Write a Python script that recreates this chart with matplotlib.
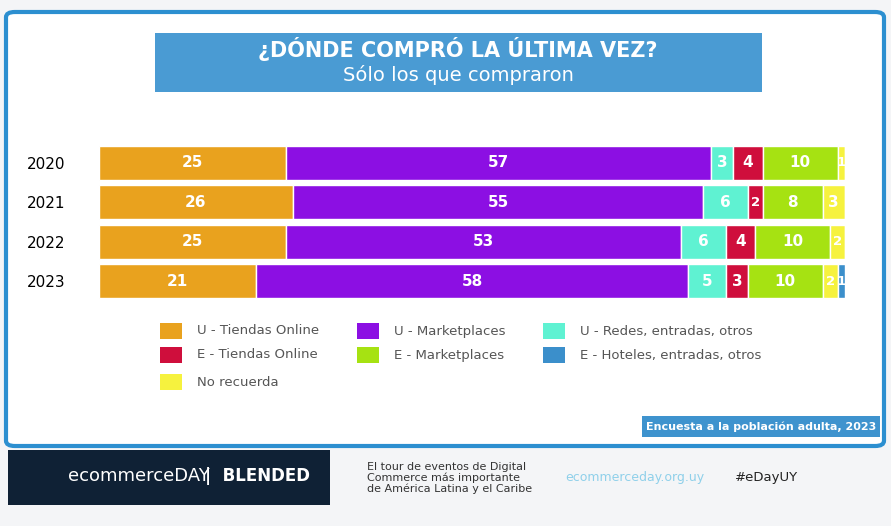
import matplotlib
matplotlib.use("Agg")
import matplotlib.pyplot as plt
from matplotlib.patches import FancyBboxPatch, Rectangle

years = ["2020", "2021", "2022", "2023"]
series = ["U - Tiendas Online", "U - Marketplaces", "U - Redes, entradas, otros",
          "E - Tiendas Online", "E - Marketplaces", "No recuerda", "E - Hoteles, entradas, otros"]
values = {
    "U - Tiendas Online": [25, 26, 25, 21],
    "U - Marketplaces": [57, 55, 53, 58],
    "U - Redes, entradas, otros": [3, 6, 6, 5],
    "E - Tiendas Online": [4, 2, 4, 3],
    "E - Marketplaces": [10, 8, 10, 10],
    "No recuerda": [1, 3, 2, 2],
    "E - Hoteles, entradas, otros": [0, 0, 0, 1],
}
colors = {
    "U - Tiendas Online": "#E9A21E",
    "U - Marketplaces": "#8C0FE3",
    "U - Redes, entradas, otros": "#5FF2D2",
    "E - Tiendas Online": "#CF0E3C",
    "E - Marketplaces": "#A6E212",
    "No recuerda": "#F6F23E",
    "E - Hoteles, entradas, otros": "#3B8FCB",
}

W, H = 891, 526
fig = plt.figure(figsize=(W/100, H/100), dpi=100)
fig.patch.set_facecolor("#F4F5F7")

def fx(x): return x / W
def fy(y): return 1 - y / H

fig.patches.append(FancyBboxPatch((fx(6), fy(446)), fx(878), 434/H, boxstyle="round,pad=0,rounding_size=0.01",
                                  transform=fig.transFigure, facecolor="white", edgecolor="#2C8FD0", linewidth=3, zorder=0))
fig.patches.append(Rectangle((fx(155), fy(92)), fx(607), 59/H, transform=fig.transFigure,
                             facecolor="#4A9BD3", edgecolor="none", zorder=0.5))
fig.text(fx(458), fy(49), "¿DÓNDE COMPRÓ LA ÚLTIMA VEZ?", ha="center", va="center",
         color="white", fontsize=15, fontweight="bold")
fig.text(fx(458), fy(75), "Sólo los que compraron", ha="center", va="center", color="white", fontsize=14)

ax = fig.add_axes([fx(99), fy(301), fx(746), 158/H])
ax.set_zorder(5)
left = [0] * len(years)
for s in series:
    vals = values[s]
    ax.barh(years, vals, left=left, color=colors[s], height=0.86, edgecolor="white", linewidth=1)
    for i, v in enumerate(vals):
        if v > 0:
            ax.text(left[i] + v / 2, i, str(v), ha="center", va="center", color="white",
                    fontsize=11 if v >= 3 else 9.5, fontweight="bold")
    left = [a + b for a, b in zip(left, vals)]
ax.set_xlim(0, 100)
ax.set_ylim(3.5, -0.5)
ax.set_xticks([])
ax.tick_params(axis="y", length=0, labelsize=11, pad=24)
for sp in ax.spines.values():
    sp.set_visible(False)
ax.set_facecolor("none")

pos = [(160, 331), (357, 331), (543, 331), (160, 355), (357, 355), (543, 355), (160, 382)]
order = ["U - Tiendas Online", "U - Marketplaces", "U - Redes, entradas, otros",
         "E - Tiendas Online", "E - Marketplaces", "E - Hoteles, entradas, otros", "No recuerda"]
for (x, y), s in zip(pos, order):
    fig.patches.append(Rectangle((fx(x), fy(y + 8)), fx(22), 16/H, transform=fig.transFigure,
                                 facecolor=colors[s], edgecolor="none", zorder=1))
    fig.text(fx(x + 37), fy(y), s, ha="left", va="center", color="#555555", fontsize=9.5)

fig.patches.append(Rectangle((fx(642), fy(437)), fx(238), 21/H, transform=fig.transFigure,
                             facecolor="#3E93CE", edgecolor="none", zorder=1))
fig.text(fx(761), fy(426.5), "Encuesta a la población adulta, 2023", ha="center", va="center",
         color="white", fontsize=8, fontweight="bold")

fig.patches.append(Rectangle((fx(8), fy(505)), fx(322), 55/H, transform=fig.transFigure,
                             facecolor="#0F2135", edgecolor="none", zorder=1))
fig.text(fx(68), fy(476), "ecommerceDAY", ha="left", va="center", color="white", fontsize=13)
fig.text(fx(205), fy(476), "|  BLENDED", ha="left", va="center", color="white", fontsize=12, fontweight="bold")
fig.text(fx(367), fy(478), "El tour de eventos de Digital\nCommerce más importante\nde América Latina y el Caribe",
         ha="left", va="center", color="#333333", fontsize=8, linespacing=1.1)
fig.text(fx(565), fy(478), "ecommerceday.org.uy", ha="left", va="center", color="#8FD0EA", fontsize=9)
fig.text(fx(735), fy(478), "#eDayUY", ha="left", va="center", color="#222222", fontsize=9.5)

fig.savefig("out.png", dpi=100)
